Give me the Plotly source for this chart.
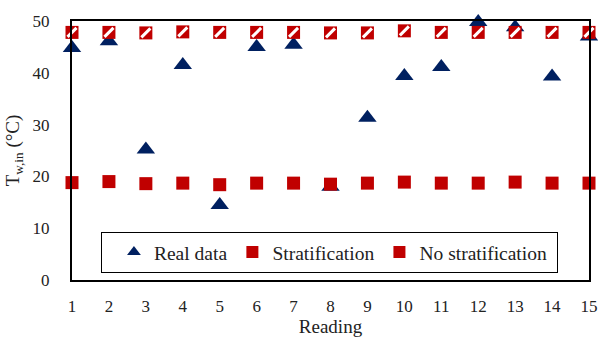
import plotly.graph_objects as go

readings = list(range(1, 16))
real_data = [44.8, 46.1, 25.2, 41.5, 14.5, 45.0, 45.4, 18.0, 31.3, 39.4, 41.1, 49.8, 48.8, 39.3, 47.0]
stratification = [18.8, 19.0, 18.6, 18.7, 18.4, 18.7, 18.7, 18.5, 18.7, 18.9, 18.7, 18.7, 18.9, 18.7, 18.7]
no_stratification = [47.8, 47.8, 47.7, 47.9, 47.8, 47.8, 47.8, 47.7, 47.7, 48.1, 47.8, 47.8, 47.8, 47.8, 47.8]

NAVY = "#002060"
RED = "#C00000"
FONT = "Liberation Serif"

fig = go.Figure()
fig.add_trace(go.Scatter(
    x=readings, y=real_data, mode="markers", name="Real data",
    marker=dict(symbol="triangle-up", size=16, color=NAVY),
    cliponaxis=False,
))
fig.add_trace(go.Scatter(
    x=readings, y=stratification, mode="markers", name="Stratification",
    marker=dict(symbol="square", size=13, color=RED),
    cliponaxis=False,
))
fig.add_trace(go.Scatter(
    x=readings, y=no_stratification, mode="markers",
    name="No stratification\u00a0",
    legendgroup="ns",
    marker=dict(symbol="square", size=13, color=RED),
    cliponaxis=False,
))
fig.add_trace(go.Scatter(
    x=readings, y=no_stratification, mode="markers", name="No stratification",
    legendgroup="ns", showlegend=False,
    marker=dict(symbol="line-ne", size=9, color="white",
                line=dict(color="white", width=3)),
    cliponaxis=False,
))

fig.update_layout(
    width=598, height=338,
    margin=dict(l=72, r=9, t=21, b=58),
    paper_bgcolor="white", plot_bgcolor="white",
    font=dict(family=FONT, size=17, color="#222222"),
    showlegend=True,
    legend=dict(
        orientation="h", x=0.056, y=0.186, xanchor="left", yanchor="top",
        bordercolor="black", borderwidth=1, bgcolor="white",
        font=dict(family=FONT, size=19.5, color="#222222"),
        title=dict(text="\u00a0", side="left", font=dict(family=FONT, size=12)),
        itemsizing="constant",
    ),
    xaxis=dict(
        range=[1, 15], tickmode="array", tickvals=readings,
        showgrid=False, zeroline=False, automargin=False,
        showline=True, linecolor="black", linewidth=2, mirror=True,
        ticks="", ticklabelstandoff=10,
        title=dict(text="Reading", font=dict(family=FONT, size=19), standoff=3),
    ),
    yaxis=dict(
        range=[0, 50], tickmode="array", tickvals=[0, 10, 20, 30, 40, 50],
        showgrid=False, zeroline=False, automargin=False,
        showline=True, linecolor="black", linewidth=2, mirror=True,
        ticks="", ticklabelstandoff=17,
        title=dict(text="T<sub>w,in</sub> (°C)", font=dict(family=FONT, size=19), standoff=8),
    ),
)

# remove the default 8px page margin so the figure fills the 598x338 window
fig.write_html(
    "out.html",
    config={"displayModeBar": False},
    post_script="document.body.style.margin='0';",
)
